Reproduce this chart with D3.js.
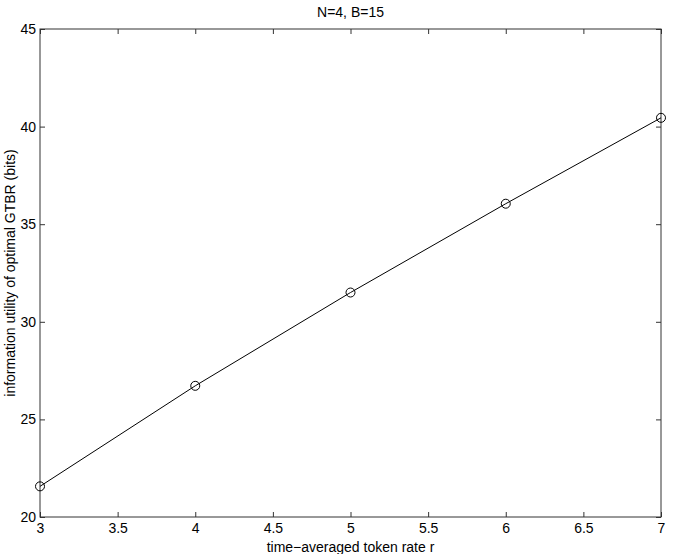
<!DOCTYPE html>
<html>
<head>
<meta charset="utf-8">
<script src="https://cdn.jsdelivr.net/npm/d3@7"></script>
<style>
  html, body { margin: 0; padding: 0; background: #fff; }
  svg text { font-family: "Liberation Sans", Arial, Helvetica, sans-serif; fill: #000; }
</style>
</head>
<body>
<svg id="chart" width="674" height="554"></svg>
<script>
const rates = [3, 4, 5, 6, 7];
const utility = [21.57, 26.72, 31.5, 36.05, 40.45];
const xTicks = [3, 3.5, 4, 4.5, 5, 5.5, 6, 6.5, 7];
const yTicks = [20, 25, 30, 35, 40, 45];
const title = "N=4, B=15";
const xLabel = "time\u2212averaged token rate r";
const yLabel = "information utility of optimal GTBR (bits)";

const svg = d3.select("#chart");
const L = 40, R = 661, T = 29, B = 517;
const x = d3.scaleLinear().domain([3, 7]).range([L, R]);
const y = d3.scaleLinear().domain([20, 45]).range([B, T]);
const tickLen = 5;
const axisColor = "#333";

svg.append("rect").attr("x", L).attr("y", T).attr("width", R - L).attr("height", B - T)
  .attr("fill", "none").attr("stroke", axisColor).attr("stroke-width", 1);

const gBottom = svg.append("g").attr("transform", `translate(0,${B})`)
  .call(d3.axisBottom(x).tickValues(xTicks).tickSizeInner(-tickLen).tickSizeOuter(0).tickPadding(6)
    .tickFormat(d3.format("~g")));
const gTop = svg.append("g").attr("transform", `translate(0,${T})`)
  .call(d3.axisTop(x).tickValues(xTicks).tickSizeInner(-tickLen).tickSizeOuter(0).tickFormat(""));
const gLeft = svg.append("g").attr("transform", `translate(${L},0)`)
  .call(d3.axisLeft(y).tickValues(yTicks).tickSizeInner(-tickLen).tickSizeOuter(0).tickPadding(4)
    .tickFormat(d3.format("~g")));
const gRight = svg.append("g").attr("transform", `translate(${R},0)`)
  .call(d3.axisRight(y).tickValues(yTicks).tickSizeInner(-tickLen).tickSizeOuter(0).tickFormat(""));

[gBottom, gTop, gLeft, gRight].forEach(g => {
  g.select(".domain").remove();
  g.selectAll("line").attr("stroke", axisColor);
  g.selectAll("text").attr("font-size", 14).attr("fill", "#000")
    .attr("font-family", "'Liberation Sans', Arial, Helvetica, sans-serif");
});

const pts = rates.map((r, i) => [r, utility[i]]);

svg.append("path")
  .datum(pts)
  .attr("fill", "none").attr("stroke", "#000").attr("stroke-width", 1)
  .attr("d", d3.line().x(d => x(d[0])).y(d => y(d[1])));

svg.append("g").selectAll("circle")
  .data(pts)
  .join("circle")
  .attr("cx", d => x(d[0])).attr("cy", d => y(d[1])).attr("r", 4.5)
  .attr("fill", "none").attr("stroke", "#000").attr("stroke-width", 1);

svg.append("text").attr("x", (L + R) / 2).attr("y", 17).attr("text-anchor", "middle")
  .attr("font-size", 14).text(title);
svg.append("text").attr("x", (L + R) / 2).attr("y", 552).attr("text-anchor", "middle")
  .attr("font-size", 14).text(xLabel);
svg.append("text").attr("transform", `translate(15,${(T + B) / 2}) rotate(-90)`)
  .attr("text-anchor", "middle").attr("font-size", 14).text(yLabel);
</script>
</body>
</html>
